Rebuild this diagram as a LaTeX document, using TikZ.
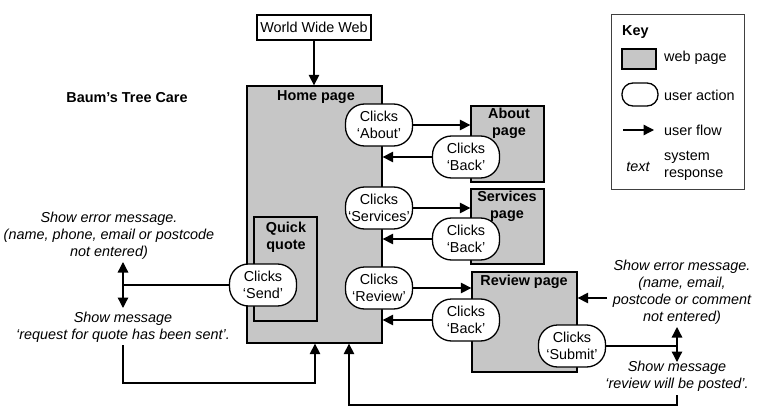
\documentclass[tikz,border=0pt]{standalone}
\usepackage{fontspec}
\setmainfont{Liberation Sans}
\usetikzlibrary{arrows.meta}
\definecolor{pagegray}{RGB}{198,198,198}
\begin{document}
\begin{tikzpicture}[x=1pt,y=-1pt,
  font=\fontsize{14.4}{17}\selectfont,
  page/.style={draw, line width=1.3pt, fill=pagegray, inner sep=0pt},
  act/.style={draw, line width=1.3pt, fill=white, rounded corners=19pt, minimum width=67pt, minimum height=42pt, inner sep=0pt, align=center},
  flow/.style={line width=1.3pt, -{Triangle[length=10.5pt,width=10.5pt]}},
  dflow/.style={line width=1.3pt, {Triangle[length=10.5pt,width=10.5pt]}-{Triangle[length=10.5pt,width=10.5pt]}},
  plain/.style={line width=1.3pt},
  lbl/.style={font=\bfseries\fontsize{14.4}{17}\selectfont, align=center, inner sep=0pt},
  msg/.style={font=\itshape\fontsize{14.4}{17}\selectfont, align=center, inner sep=0pt},
  txt/.style={align=left, inner sep=0pt},
]
\useasboundingbox (0,0) rectangle (758,420);

% title
\node[lbl] (title) at (127,98) {Baum’s Tree Care};

% World Wide Web
\node[draw, line width=1.1pt, minimum width=114pt, minimum height=25pt, inner sep=0pt] (www) at (314,27.5) {World Wide Web};

% pages
\node[page, minimum width=135pt, minimum height=257pt] (home) at (314.5,214.5) {};
\node[lbl] (homel) at (316,97) {Home page};
\node[page, minimum width=73pt, minimum height=76pt] (aboutp) at (507.5,144) {};
\node[lbl] (aboutl) at (509,123.5) {About\\page};
\node[page, minimum width=73pt, minimum height=75pt] (servp) at (507.5,226.5) {};
\node[lbl] (servl) at (507,206.5) {Services\\page};
\node[page, minimum width=105pt, minimum height=100pt] (revp) at (524.5,322) {};
\node[lbl] (revl) at (524,282) {Review page};
\node[draw, line width=1.3pt, minimum width=63pt, minimum height=104pt, inner sep=0pt] (qq) at (285.5,269) {};
\node[lbl] (qql) at (286,237.5) {Quick\\quote};

% user actions
\node[act] (about) at (379,125) {Clicks\\‘About’};
\node[act] (back1) at (466,157) {Clicks\\‘Back’};
\node[act] (serv) at (379,208) {Clicks\\‘Services’};
\node[act] (back2) at (466,239) {Clicks\\‘Back’};
\node[act] (rev) at (379,288) {Clicks\\‘Review’};
\node[act] (back3) at (466,320) {Clicks\\‘Back’};
\node[act] (submit) at (572,346) {Clicks\\‘Submit’};
\node[act] (send) at (263,285) {Clicks\\‘Send’};

% flows
\draw[flow] (www.south) -- (www.south |- home.north);
\draw[flow] (about.east) -- (about.east -| aboutp.west);
\draw[flow] (back1.west) -- (back1.west -| home.east);
\draw[flow] (serv.east) -- (serv.east -| servp.west);
\draw[flow] (back2.west) -- (back2.west -| home.east);
\draw[flow] (rev.east) -- (rev.east -| revp.west);
\draw[flow] (back3.west) -- (back3.west -| home.east);

% left system responses
\node[msg] (errl) at (109,236) {Show error message.\\(name, phone, email or postcode\\not entered)};
\node[msg] (msgl) at (123,327.5) {Show message\\‘request for quote has been sent’.};
\coordinate (ltop) at (123,262);
\coordinate (lbot) at (123,308);
\draw[dflow] (ltop) -- (lbot);
\draw[plain] (send.west) -- (send.west -| ltop);
\coordinate (lb1) at (123,345);
\coordinate (lb2) at (315,383);
\draw[flow] (lb1) |- (lb2) -- (lb2 |- home.south);

% right system responses
\node[msg] (errr) at (682,292.5) {Show error message.\\(name, email,\\postcode or comment\\not entered)};
\node[msg] (msgr) at (677,376.5) {Show message\\‘review will be posted’.};
\coordinate (rin) at (607,298);
\draw[flow] (rin) -- (rin -| revp.east);
\coordinate (rtop) at (677,327);
\coordinate (rbot) at (677,362);
\draw[dflow] (rtop) -- (rbot);
\draw[plain] (submit.east) -- (submit.east -| rtop);
\coordinate (rb1) at (677,395);
\coordinate (rb2) at (349,405);
\draw[flow] (rb1) |- (rb2) -- (rb2 |- home.south);

% key
\node[draw=black!75, line width=0.8pt, minimum width=133pt, minimum height=175pt, inner sep=0pt] (key) at (677.5,101.5) {};
\node[lbl, anchor=west] (keyl) at (622,32) {Key};
\node[page, minimum width=34pt, minimum height=20pt] (kpage) at (639,59) {};
\node[txt, anchor=west] (kpagel) at (664,58) {web page};
\node[draw, line width=1.3pt, fill=white, rounded corners=11pt, minimum width=36pt, minimum height=23pt, inner sep=0pt] (kact) at (640,94.5) {};
\node[txt, anchor=west] (kactl) at (664,95) {user action};
\coordinate (kf1) at (623,130);
\coordinate (kf2) at (654,130);
\draw[flow] (kf1) -- (kf2);
\node[txt, anchor=west] (kflowl) at (664,130) {user flow};
\node[msg] (ktext) at (638,167) {text};
\node[txt, anchor=west] (ksys) at (664,166) {system\\response};
\end{tikzpicture}
\end{document}
